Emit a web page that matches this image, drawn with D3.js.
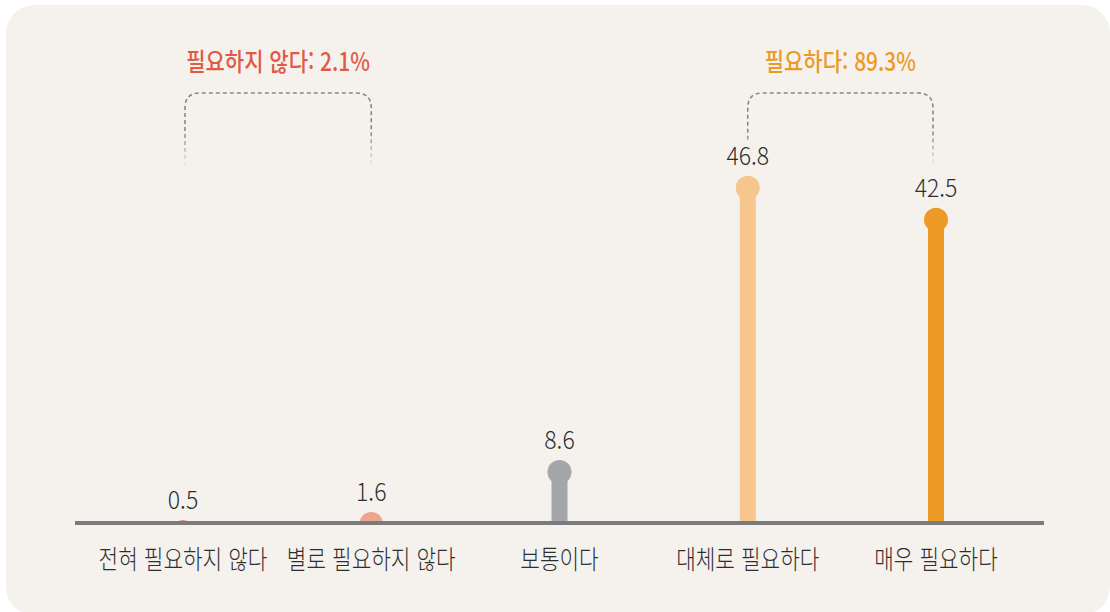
<!DOCTYPE html>
<html lang="ko">
<head>
<meta charset="UTF-8">
<title>필요성 인식</title>
<script src="https://d3js.org/d3.v7.min.js"></script>
<style>
  body { margin: 0; background: #fff; }
  svg { display: block; font-family: "Noto Sans CJK KR", "Noto Sans", sans-serif; }
</style>
</head>
<body>
<svg width="1110" height="612"></svg>
<script>
// 데이터
const categories = ["전혀 필요하지 않다", "별로 필요하지 않다", "보통이다", "대체로 필요하다", "매우 필요하다"];
const values = [0.5, 1.6, 8.6, 46.8, 42.5];
const colors = ["#e05a45", "#eca58e", "#a5a6aa", "#f6c68c", "#ec9a25"];
const groupLabels = ["필요하지 않다: 2.1%", "필요하다: 89.3%"];
const groupColors = ["#e05a45", "#ec9a25"];
const groupMembers = [[0, 1], [3, 4]];

const svg = d3.select("svg");
const baseY = 523;

// 카드 배경
svg.append("rect")
  .attr("x", 6).attr("y", 5)
  .attr("width", 1104).attr("height", 610)
  .attr("rx", 28)
  .attr("fill", "#f5f2ee");

const x = d3.scalePoint()
  .domain(categories)
  .range([183, 936]);

const y = d3.scaleLinear()
  .domain([0, 50])
  .range([536, 164]);

const defs = svg.append("defs");
defs.append("clipPath").attr("id", "above")
  .append("rect").attr("x", 0).attr("y", 0).attr("width", 1110).attr("height", baseY - 1);

const fade = defs.append("linearGradient")
  .attr("id", "fade")
  .attr("gradientUnits", "userSpaceOnUse")
  .attr("x1", 0).attr("y1", 93).attr("x2", 0).attr("y2", 168);
fade.append("stop").attr("offset", 0).attr("stop-color", "#888").attr("stop-opacity", 1);
fade.append("stop").attr("offset", 0.5).attr("stop-color", "#888").attr("stop-opacity", 1);
fade.append("stop").attr("offset", 1).attr("stop-color", "#888").attr("stop-opacity", 0);

// 막대 + 원
const marks = svg.append("g").attr("clip-path", "url(#above)");
marks.selectAll("rect")
  .data(values)
  .join("rect")
  .attr("x", (d, i) => x(categories[i]) - 8)
  .attr("y", d => y(d))
  .attr("width", 16)
  .attr("height", d => Math.max(0, baseY - y(d)))
  .attr("fill", (d, i) => colors[i]);

marks.selectAll("circle")
  .data(values)
  .join("circle")
  .attr("cx", (d, i) => x(categories[i]))
  .attr("cy", d => y(d))
  .attr("r", 12)
  .attr("fill", (d, i) => colors[i]);

// 기준선
svg.append("line")
  .attr("x1", 75).attr("x2", 1044)
  .attr("y1", baseY).attr("y2", baseY)
  .attr("stroke", "#7b7b7b")
  .attr("stroke-width", 4);

// 값 라벨
svg.append("g").selectAll("text")
  .data(values)
  .join("text")
  .attr("transform", (d, i) => `translate(${x(categories[i])},${y(d) - 23}) scale(0.92,1)`)
  .attr("text-anchor", "middle")
  .attr("font-size", 25)
  .attr("font-weight", 300)
  .attr("fill", "#2e2e2e")
  .text(d => d.toFixed(1));

// 범주 라벨
svg.append("g").selectAll("text")
  .data(categories)
  .join("text")
  .attr("transform", d => `translate(${x(d)},569) scale(0.82,1)`)
  .attr("text-anchor", "middle")
  .attr("font-size", 26)
  .attr("font-weight", 300)
  .attr("fill", "#2e2e2e")
  .text(d => d);

// 그룹 괄호
groupMembers.forEach((m, gi) => {
  const x0 = x(categories[m[0]]) + (gi === 0 ? 2 : 0);
  const x1 = x(categories[m[1]]) - (gi === 0 ? 0 : 3);
  const top = 93, r = 15;
  const b0 = Math.min(166, y(values[m[0]]) - 48);
  const b1 = Math.min(166, y(values[m[1]]) - 48);
  const path = `M${x0},${b0} L${x0},${top + r} Q${x0},${top} ${x0 + r},${top} L${x1 - r},${top} Q${x1},${top} ${x1},${top + r} L${x1},${b1}`;
  svg.append("path")
    .attr("d", path)
    .attr("fill", "none")
    .attr("stroke", "url(#fade)")
    .attr("stroke-width", 1.6)
    .attr("stroke-dasharray", "4,3");

  svg.append("text")
    .attr("transform", `translate(${(x0 + x1) / 2},71) scale(0.84,1)`)
    .attr("text-anchor", "middle")
    .attr("font-size", 25)
    .attr("font-weight", 500)
    .attr("fill", groupColors[gi])
    .text(groupLabels[gi]);
});
</script>
</body>
</html>
